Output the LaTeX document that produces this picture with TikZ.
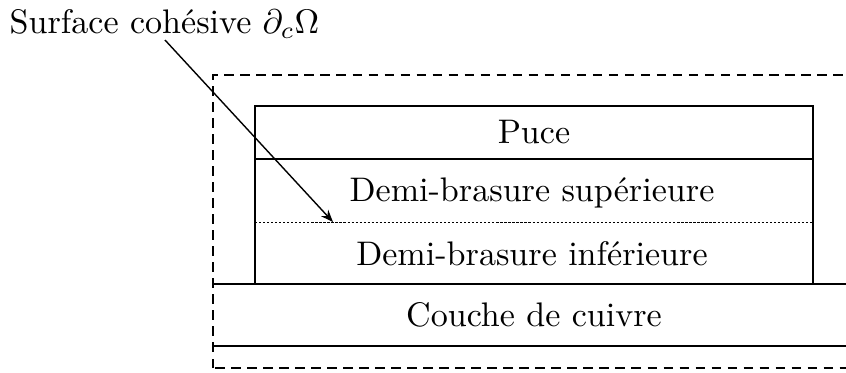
\documentclass[tikz,border=0pt]{standalone}
\usetikzlibrary{arrows.meta}
\begin{document}
\begin{tikzpicture}[x=0.2934pt,y=-0.2934pt,
  txt/.style={font=\fontsize{10}{12}\selectfont, inner sep=0pt, anchor=base},
  solidline/.style={line width=0.38pt, line cap=rect},
  bound/.style={line width=0.71pt, dash pattern=on 2.79pt off 1.91pt},
  cutline/.style={line width=0.23pt, dash pattern=on 0.65pt off 0.53pt},
  pointer/.style={line width=0.41pt, -{Stealth[length=3.6pt,width=2.8pt]}}]
\useasboundingbox (0,0) rectangle (846,372);
\clip (0,0) rectangle (846,372);
% dashed domain boundary
\draw[bound] (213,368) -- (213,75) -- (900,75);
\draw[bound] (215,368) -- (900,368);
% chip and solder block
\draw[solidline] (255,106) rectangle (813,284);
\draw[solidline] (255,159) -- (813,159);
\draw[cutline] (255,222) -- (813,222);
% copper layer
\draw[solidline] (213,284) -- (900,284);
\draw[solidline] (213,346) -- (900,346);
% texts
\node[txt] (puce) at (534,143) {Puce};
\node[txt] (sup) at (532,201) {Demi-brasure supérieure};
\node[txt] (inf) at (532,265) {Demi-brasure inférieure};
\node[txt] (cu) at (534,326) {Couche de cuivre};
\node[txt, anchor=base west] (lbl) at (9,33) {Surface cohésive $\partial_c\Omega$};
\coordinate (start) at (165,40);
\coordinate (tip) at (333,222);
\draw[pointer] (start) -- (tip);
\end{tikzpicture}
\end{document}
